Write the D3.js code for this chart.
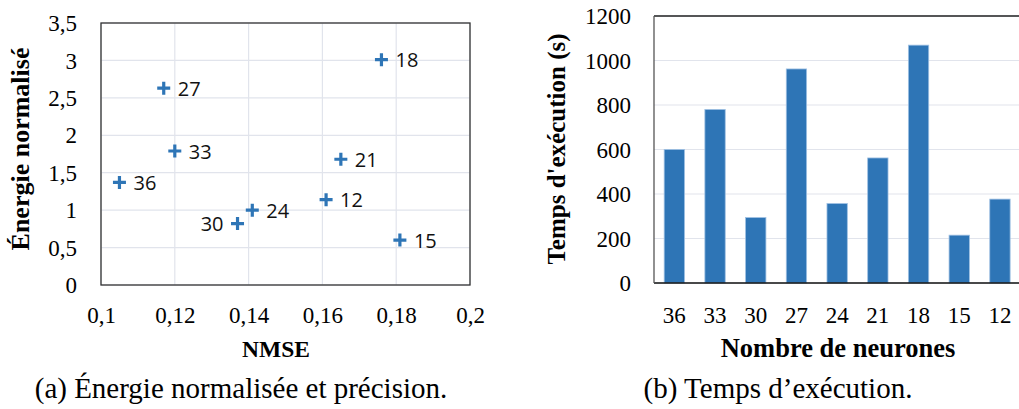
<!DOCTYPE html>
<html>
<head>
<meta charset="utf-8">
<script src="https://cdn.jsdelivr.net/npm/d3@7"></script>
<style>
  body { margin: 0; background: #fff; }
  svg { display: block; }
  .title { font-family: "Liberation Serif", "Times New Roman", serif; font-weight: bold; fill: #000; }
  .caption { font-family: "Liberation Serif", "Times New Roman", serif; font-size: 29px; fill: #000; }
  .lbl { font-family: "Open Sans", "Noto Sans", sans-serif; font-size: 20px; fill: #111; }
  text.tk { font-family: "Liberation Serif", "Times New Roman", serif !important; font-size: 23px !important; fill: #000 !important; }
</style>
</head>
<body>
<div id="chart"></div>
<script>
// scatter (a): neurons -> NMSE / normalised energy
const neurons = [36, 27, 33, 30, 24, 12, 21, 18, 15];
const nmse    = [0.105, 0.117, 0.120, 0.137, 0.141, 0.161, 0.165, 0.176, 0.181];
const energy  = [1.37, 2.63, 1.79, 0.82, 1.00, 1.14, 1.68, 3.01, 0.60];
const xTicksA = [0.1, 0.12, 0.14, 0.16, 0.18, 0.2];
const yTicksA = [0, 0.5, 1, 1.5, 2, 2.5, 3, 3.5];

// bars (b): execution time per neuron count
const barCats  = ["36", "33", "30", "27", "24", "21", "18", "15", "12"];
const barTimes = [600, 780, 294, 962, 357, 562, 1069, 215, 377];
const yTicksB  = [0, 200, 400, 600, 800, 1000, 1200];

const blue = "#2e75b6";
const gridColor = "#e1e4ec";

const fr = d3.formatLocale({decimal: ",", thousands: "", grouping: [3], currency: ["", "€"]});
const fmt = fr.format("~g");

// tick text in the Times look of the original
function styleTicks(g, dy) {
    g.select(".domain").remove();
    g.attr("font-family", null).attr("font-size", null);
    g.selectAll("text")
        .attr("class", "tk")
        .attr("dy", dy);
}

const svg = d3.select("#chart").append("svg")
    .attr("width", 1019)
    .attr("height", 409);

// ---------- chart (a) ----------
const A = {left: 101, right: 470, top: 23, bottom: 285};

const x = d3.scaleLinear().domain([0.1, 0.2]).range([A.left, A.right]);
const y = d3.scaleLinear().domain([0, 3.5]).range([A.bottom, A.top]);

const ga = svg.append("g");

// grid
ga.append("g")
    .selectAll("line.v")
    .data(xTicksA)
    .join("line")
    .attr("x1", d => x(d)).attr("x2", d => x(d))
    .attr("y1", A.top).attr("y2", A.bottom)
    .attr("stroke", gridColor).attr("stroke-width", 1.2);

ga.append("g")
    .selectAll("line.h")
    .data(yTicksA)
    .join("line")
    .attr("x1", A.left).attr("x2", A.right)
    .attr("y1", d => y(d)).attr("y2", d => y(d))
    .attr("stroke", gridColor).attr("stroke-width", 1.2);

ga.append("rect")
    .attr("x", A.left).attr("y", A.top)
    .attr("width", A.right - A.left).attr("height", A.bottom - A.top)
    .attr("fill", "none").attr("stroke", "#333").attr("stroke-width", 1.3);

// axes
ga.append("g")
    .attr("transform", "translate(" + (A.left - 21) + ",0)")
    .call(d3.axisLeft(y).tickValues(yTicksA).tickFormat(fmt).tickSize(0))
    .call(g => styleTicks(g, "0.33em"));

ga.append("g")
    .attr("transform", "translate(0," + (A.bottom + 18) + ")")
    .call(d3.axisBottom(x).tickValues(xTicksA).tickFormat(fmt).tickSize(0))
    .call(g => styleTicks(g, "0.72em"));

// markers
const pts = neurons.map((n, i) => ({n: n, x: nmse[i], y: energy[i]}));

const mk = ga.append("g")
    .selectAll("g")
    .data(pts)
    .join("g")
    .attr("transform", d => "translate(" + x(d.x) + "," + y(d.y) + ")");

mk.append("path")
    .attr("d", "M-6.5,0H6.5M0,-6.5V6.5")
    .attr("stroke", blue)
    .attr("stroke-width", 3.2);

mk.append("text")
    .attr("class", "lbl")
    .attr("x", d => d.n === 30 ? -14 : 14)
    .attr("y", 7.5)
    .attr("text-anchor", d => d.n === 30 ? "end" : "start")
    .text(d => d.n);

ga.append("text")
    .attr("class", "title")
    .style("font-size", "26px")
    .attr("transform", "translate(29," + ((A.top + A.bottom) / 2 - 5) + ") rotate(-90)")
    .attr("text-anchor", "middle")
    .text("Énergie normalisé");

ga.append("text")
    .attr("class", "title")
    .style("font-size", "23.5px")
    .attr("x", 276).attr("y", 357)
    .attr("text-anchor", "middle")
    .text("NMSE");

ga.append("text")
    .attr("class", "caption")
    .attr("x", 241).attr("y", 398)
    .attr("text-anchor", "middle")
    .text("(a) Énergie normalisée et précision.");

// ---------- chart (b) ----------
const B = {left: 654, right: 1020.3, top: 16, bottom: 283};

const xb = d3.scaleBand().domain(barCats).range([B.left, B.right])
    .paddingInner(0.5).paddingOuter(0.25);
const yb = d3.scaleLinear().domain([0, 1200]).range([B.bottom, B.top]);

const gb = svg.append("g");

gb.append("g")
    .selectAll("line")
    .data(yTicksB)
    .join("line")
    .attr("x1", B.left).attr("x2", 1019)
    .attr("y1", d => yb(d)).attr("y2", d => yb(d))
    .attr("stroke", gridColor).attr("stroke-width", 1.2);

gb.selectAll("rect.bar")
    .data(barCats)
    .join("rect")
    .attr("class", "bar")
    .attr("x", d => xb(d))
    .attr("width", xb.bandwidth())
    .attr("y", (d, i) => yb(barTimes[i]))
    .attr("height", (d, i) => yb(0) - yb(barTimes[i]))
    .attr("fill", blue)
    .attr("stroke", "#9fc0e3")
    .attr("stroke-width", 0.8);

// frame: right side runs off the page
gb.append("line")
    .attr("x1", B.left).attr("x2", 1019).attr("y1", B.top).attr("y2", B.top)
    .attr("stroke", "#222").attr("stroke-width", 1.3);
gb.append("line")
    .attr("x1", B.left).attr("x2", 1019).attr("y1", B.bottom).attr("y2", B.bottom)
    .attr("stroke", "#111").attr("stroke-width", 1.5);
gb.append("line")
    .attr("x1", B.left).attr("x2", B.left).attr("y1", B.top).attr("y2", B.bottom)
    .attr("stroke", "#555").attr("stroke-width", 1.3);

gb.append("g")
    .attr("transform", "translate(" + (B.left - 20) + ",0)")
    .call(d3.axisLeft(yb).tickValues(yTicksB).tickFormat(d3.format("d")).tickSize(0))
    .call(g => styleTicks(g, "0.33em"));

gb.append("g")
    .attr("transform", "translate(0," + (B.bottom + 20) + ")")
    .call(d3.axisBottom(xb).tickSize(0))
    .call(g => styleTicks(g, "0.72em"));

gb.append("text")
    .attr("class", "title")
    .style("font-size", "25px")
    .attr("transform", "translate(565,149) rotate(-90)")
    .attr("text-anchor", "middle")
    .text("Temps d'exécution (s)");

gb.append("text")
    .attr("class", "title")
    .style("font-size", "26.5px")
    .attr("x", 838).attr("y", 357)
    .attr("text-anchor", "middle")
    .text("Nombre de neurones");

gb.append("text")
    .attr("class", "caption")
    .attr("x", 778).attr("y", 398)
    .attr("text-anchor", "middle")
    .text("(b) Temps d’exécution.");
</script>
</body>
</html>
